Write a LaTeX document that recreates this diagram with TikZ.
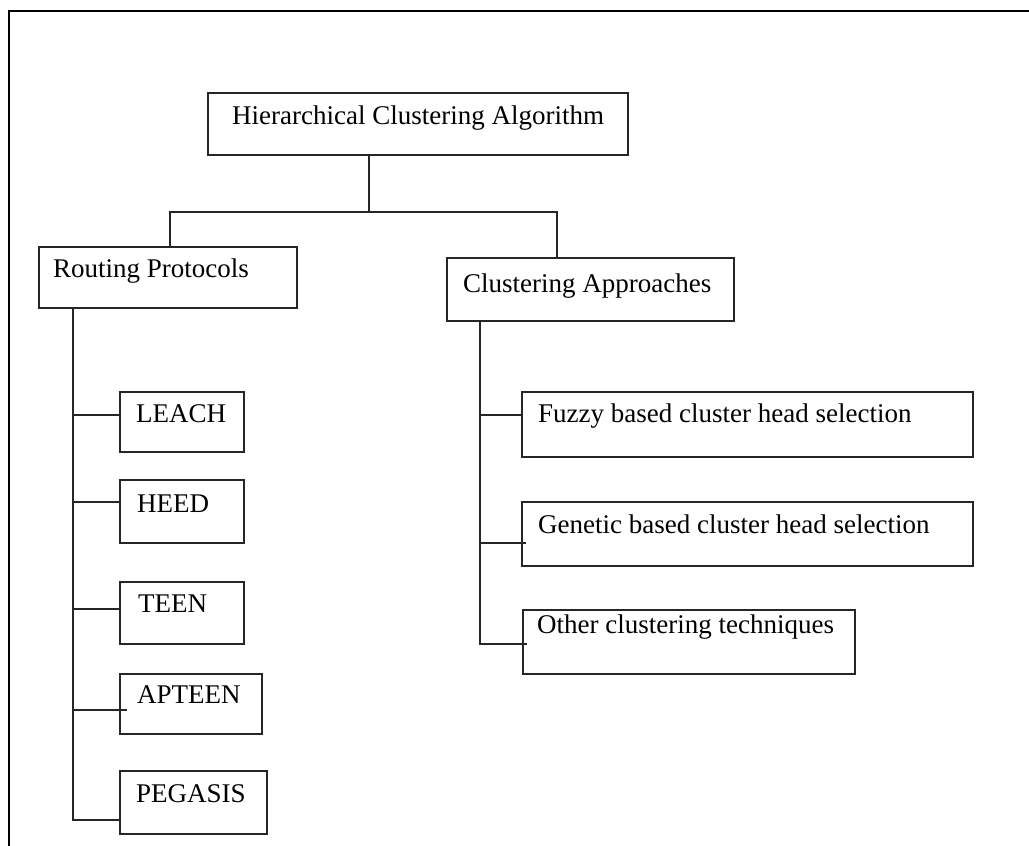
\documentclass[tikz,border=0pt]{standalone}
\usepackage{fontspec}
\setmainfont{Liberation Serif}
\begin{document}
\begin{tikzpicture}[x=1pt,y=-1pt,
  box/.style={draw=black!85, line width=2.2pt, rectangle, inner sep=0pt, anchor=north west},
  lbl/.style={anchor=base west, inner sep=0pt, font=\fontsize{27}{32}\selectfont},
  wire/.style={draw=black!85, line width=2.2pt}]
\useasboundingbox (0,0) rectangle (1029,846);
% page frame (top and left edges)
\draw[line width=2.8pt] (9,846) -- (9,11) -- (1029,11);

% root
\node[box, minimum width=420pt, minimum height=62pt] (hca) at (207,92) {};
\node[lbl] (hca-t) at (232,124) {Hierarchical Clustering Algorithm};

% second level
\node[box, minimum width=258pt, minimum height=61pt] (rp) at (38,246) {};
\node[lbl] (rp-t) at (53,277) {Routing Protocols};
\node[box, minimum width=287pt, minimum height=63pt] (ca) at (446,257) {};
\node[lbl] (ca-t) at (463,292) {Clustering Approaches};

% routing protocols
\node[box, minimum width=124pt, minimum height=60pt] (leach) at (119,391) {};
\node[lbl] (leach-t) at (136,422) {LEACH};
\node[box, minimum width=124pt, minimum height=63pt] (heed) at (119,479) {};
\node[lbl] (heed-t) at (137,512) {HEED};
\node[box, minimum width=124pt, minimum height=62pt] (teen) at (119,581) {};
\node[lbl] (teen-t) at (138,612) {TEEN};
\node[box, minimum width=142pt, minimum height=60pt] (apteen) at (119,673) {};
\node[lbl] (apteen-t) at (137,703) {APTEEN};
\node[box, minimum width=147pt, minimum height=63pt] (pegasis) at (119,770) {};
\node[lbl] (pegasis-t) at (136,802) {PEGASIS};

% clustering approaches
\node[box, minimum width=451pt, minimum height=65pt] (fuzzy) at (521,391) {};
\node[lbl] (fuzzy-t) at (538,422) {Fuzzy based cluster head selection};
\node[box, minimum width=451pt, minimum height=64pt] (genetic) at (521,501) {};
\node[lbl] (genetic-t) at (538,533) {Genetic based cluster head selection};
\node[box, minimum width=332pt, minimum height=64pt] (other) at (522,609) {};
\node[lbl] (other-t) at (537,633) {Other clustering techniques};

% junctions
\coordinate (j) at (369,212);
\coordinate (jl) at (170,212);
\coordinate (jr) at (557,212);
\coordinate (lbus) at (73,0);
\coordinate (rbus) at (480,0);

% root to second level
\draw[wire] (j |- hca.south) -- (j);
\draw[wire] (jl |- rp.north) -- (jl) -- (jr) -- (jr |- ca.north);

% routing protocol branches
\draw[wire] (lbus |- rp.south) -- ([yshift=-17.5]pegasis.west -| lbus) -- ([yshift=-17.5]pegasis.west);
\draw[wire] ([yshift=7]leach.west -| lbus) -- ([yshift=7]leach.west);
\draw[wire] ([yshift=9.5]heed.west -| lbus) -- ([yshift=9.5]heed.west);
\draw[wire] ([yshift=4]teen.west -| lbus) -- ([yshift=4]teen.west);
\draw[wire] ([yshift=-6,xshift=-1]apteen.west -| lbus) -- ([yshift=-6,xshift=8]apteen.west);

% clustering approach branches
\draw[wire] (rbus |- ca.south) -- ([yshift=-2]other.west -| rbus) -- ([yshift=-2,xshift=5]other.west);
\draw[wire] ([yshift=9.5]fuzzy.west -| rbus) -- ([yshift=9.5]fuzzy.west);
\draw[wire] ([yshift=-9]genetic.west -| rbus) -- ([yshift=-9,xshift=5]genetic.west);
\end{tikzpicture}
\end{document}
